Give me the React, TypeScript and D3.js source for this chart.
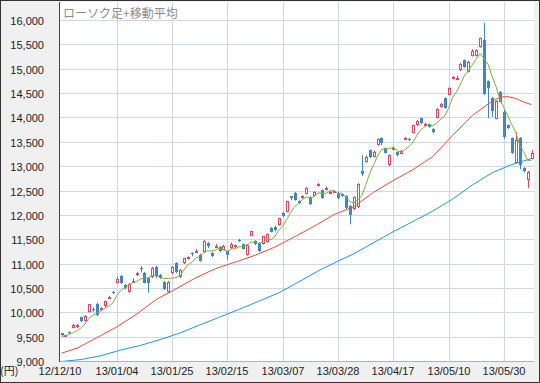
import React from 'react';
import * as d3 from 'd3';

// X tick labels (trading-day index -> label)
const tickIndex = [0, 14, 28, 42, 56, 70, 84, 98, 112];
const tickLabels = ['12/12/10', '13/01/04', '13/01/25', '13/02/15', '13/03/07', '13/03/28', '13/04/17', '13/05/10', '13/05/30'];
const yTicks = [9000, 9500, 10000, 10500, 11000, 11500, 12000, 12500, 13000, 13500, 14000, 14500, 15000, 15500, 16000];

const opens = [9565,9505,9605,9680,9690,9900,9830,10000,10070,10180,
10050,10120,10300,10420,10604,10743,10560,10420,10640,10780,
10900,10810,10700,10720,10930,10760,10620,10420,10800,11010,
10720,11010,11100,11220,11250,11180,11240,11420,11220,11355,
11340,11280,11250,11320,11340,11490,11400,11180,11570,11460,
11420,11400,11440,11730,11760,11790,12040,12060,12380,12450,
12280,12350,12430,12370,12390,12590,12510,12520,12450,12470,
12450,12420,12390,12180,12120,12160,12900,13090,13330,13190,
13430,13580,13370,13020,13360,13290,13250,13560,13560,13680,
13850,13980,13850,13860,13760,13990,14210,14400,14460,14800,
14790,14970,15180,14930,15260,15260,15440,15590,14750,14400,
13970,14520,14110,13840,13580,13060,13580,12960,12710,13150];

const highs = [9575,9540,9610,9760,9760,9910,9940,10170,10100,10200,
10100,10240,10340,10440,10734,10767,10580,10600,10700,10830,
10952,10830,10710,10930,10950,10790,10640,10640,10950,11030,
10890,11120,11150,11230,11300,11200,11480,11440,11240,11400,
11360,11390,11260,11430,11390,11510,11410,11400,11670,11480,
11440,11570,11620,11750,11780,11940,12060,12290,12390,12470,
12300,12400,12570,12380,12490,12650,12520,12580,12500,12510,
12470,12440,12400,12200,12380,12650,13225,13220,13340,13320,
13570,13590,13380,13240,13410,13300,13340,13600,13580,13850,
13950,13990,13890,13870,13780,14190,14300,14410,14620,14850,
14850,15120,15190,15160,15400,15400,15640,15942,14760,14420,
14350,14540,14150,13860,13590,13700,13600,12980,12900,13330];

const lows = [9510,9495,9560,9670,9680,9800,9810,9990,10010,9920,
10030,10100,10280,10380,10598,10580,10470,10398,10600,10740,
10820,10590,10400,10700,10700,10680,10460,10400,10780,10800,
10700,10990,11080,11150,11230,11040,11230,11320,11130,11340,
11230,11270,11080,11300,11320,11440,11290,11160,11560,11380,
11240,11390,11430,11640,11660,11780,11950,12050,12300,12290,
12220,12330,12420,12200,12380,12580,12330,12500,12430,12450,
12320,12370,12120,11805,12100,12140,12800,13070,13170,13180,
13420,13430,13260,13000,13340,13200,13240,13540,13510,13670,
13830,13860,13830,13790,13680,13980,14200,14180,14450,14780,
14770,14950,15020,14920,15250,15250,15430,14460,13981,14010,
13960,14310,13560,13760,13250,13050,12940,12870,12550,13140];

const closes = [9533,9525,9581,9742,9737,9828,9923,10160,10039,9940,
10080,10230,10322,10395,10688,10599,10508,10578,10652,10801,
10879,10600,10609,10913,10747,10709,10486,10620,10926,10824,
10866,11113,11138,11191,11260,11046,11463,11357,11153,11369,
11251,11360,11173,11407,11372,11468,11309,11385,11662,11399,
11254,11559,11606,11652,11683,11932,11968,12283,12349,12314,
12239,12381,12560,12220,12468,12635,12338,12546,12471,12493,
12336,12397,12135,12003,12362,12634,12833,13192,13192,13288,
13549,13485,13275,13221,13382,13220,13316,13568,13529,13843,
13926,13884,13860,13799,13694,14180,14285,14191,14607,14820,
14810,15096,15037,15138,15360,15381,15627,14483,14612,14142,
14340,14326,13589,13774,13261,13533,13014,12904,12880,13270];

// 5-day moving average (one value per trading day)
const ma5 = [9501,9520,9542,9582,9624,9683,9762,9878,9937,9978,
10028,10090,10122,10193,10343,10447,10502,10554,10605,10628,
10684,10702,10708,10760,10750,10716,10693,10695,10698,10713,
10744,10870,10973,11026,11114,11150,11220,11263,11256,11278,
11319,11287,11251,11301,11302,11345,11346,11388,11439,11445,
11402,11452,11496,11494,11551,11686,11768,11904,12043,12169,
12231,12313,12369,12343,12374,12453,12444,12441,12492,12497,
12437,12449,12366,12273,12247,12306,12393,12605,12843,13028,
13211,13341,13358,13364,13382,13317,13283,13341,13403,13495,
13636,13750,13808,13862,13833,13883,13964,14030,14191,14409,
14525,14687,14856,14962,15078,15202,15309,15198,15093,14849,
14635,14375,14196,14028,13852,13697,13434,13297,13118,13120];

// 25-day moving average (read at these trading-day indexes)
const ma25Idx = [0, 4, 9, 14, 19, 24, 29, 34, 39, 44, 49, 54, 59, 64, 69, 74, 79, 84, 89, 94, 99, 104, 109, 111, 113, 115, 117, 119];
const ma25Val = [9160, 9265, 9480, 9700, 9960, 10264, 10482, 10709, 10896, 11031, 11170, 11338, 11549, 11768, 12007, 12167, 12463, 12705, 12930, 13197, 13629, 14039, 14333, 14417, 14428, 14389, 14316, 14262];

// 75-day moving average
const ma75Idx = [0, 5, 10, 15, 20, 25, 30, 35, 40, 45, 50, 55, 60, 65, 70, 74, 79, 84, 89, 94, 99, 104, 109, 114, 119];
const ma75Val = [8990, 9030, 9110, 9225, 9320, 9440, 9575, 9740, 9900, 10060, 10230, 10400, 10620, 10850, 11050, 11201, 11428, 11655, 11865, 12078, 12322, 12613, 12862, 13034, 13155];

const W = 540, H = 383;
const plotL = 60, plotR = 534, plotT = 2, plotB = 361;

export default function App() {
  const x = d3.scaleLinear().domain([0, 112]).range([61.5, 503.9]);
  const y = d3.scaleLinear().domain([9000, 16000]).range([361, 20]);

  const line = d3.line<[number, number]>().x(d => x(d[0])).y(d => y(d[1]));
  const ma5Path = line(ma5.map((v, i) => [i, v] as [number, number])) || '';
  const ma25Path = line(ma25Idx.map((k, j) => [k, ma25Val[j]] as [number, number])) || '';
  const ma75Path = line(ma75Idx.map((k, j) => [k, ma75Val[j]] as [number, number])) || '';

  const upColor = '#d9486a';
  const downColor = '#3f86c4';
  const gridColor = '#cfd8e6';
  const font = '"Liberation Sans", Arial, sans-serif';

  return (
    <svg width={W} height={H} style={{ position: 'absolute', left: 0, top: 0, display: 'block' }}>
      <defs>
        <clipPath id="plotclip">
          <rect x={plotL} y={plotT} width={plotR - plotL} height={plotB - plotT} />
        </clipPath>
      </defs>
      <rect x={0} y={0} width={W} height={H} fill="#f0f0f0" />
      <rect x={plotL} y={plotT} width={plotR - plotL} height={plotB - plotT} fill="#ffffff" />

      {/* grid */}
      {yTicks.map(v => (
        <line key={'gy' + v} x1={plotL} x2={plotR} y1={Math.round(y(v)) + 0.5} y2={Math.round(y(v)) + 0.5} stroke={gridColor} strokeWidth={1} />
      ))}
      {tickIndex.slice(1).map(i => (
        <line key={'gx' + i} x1={Math.round(x(i)) + 0.5} x2={Math.round(x(i)) + 0.5} y1={plotT} y2={plotB} stroke={gridColor} strokeWidth={1} />
      ))}

      <text x={63} y={18} fontSize={12} fill="#8a8a8a" fontFamily='"Noto Sans CJK JP", "Noto Sans", sans-serif'>ローソク足+移動平均</text>

      <g clipPath="url(#plotclip)">
        {opens.map((o, i) => {
          const c = closes[i];
          const up = c >= o;
          const cx = Math.round(x(i));
          const col = up ? upColor : downColor;
          const top = Math.round(y(Math.max(o, c)));
          const bot = Math.round(y(Math.min(o, c)));
          const h = Math.max(1, bot - top);
          return (
            <g key={'c' + i}>
              <line x1={cx + 0.5} x2={cx + 0.5} y1={y(highs[i])} y2={y(lows[i])} stroke={col} strokeWidth={1} />
              {up ? (
                <rect x={cx - 0.5} y={top + 0.5} width={2} height={Math.max(1, h - 1)} fill="#ffffff" stroke={col} strokeWidth={1} />
              ) : (
                <rect x={cx - 1} y={top} width={3} height={h} fill={col} />
              )}
            </g>
          );
        })}
        <path d={ma75Path} fill="none" stroke="#1b9ad8" strokeWidth={1} />
        <path d={ma25Path} fill="none" stroke="#ee4a35" strokeWidth={1} />
        <path d={ma5Path} fill="none" stroke="#7ab232" strokeWidth={1} />
      </g>

      {/* axes */}
      <line x1={plotL - 0.5} x2={plotL - 0.5} y1={plotT} y2={plotB + 1} stroke="#444" strokeWidth={1} />
      <line x1={plotL} x2={plotR} y1={plotB + 0.5} y2={plotB + 0.5} stroke="#a9b4c4" strokeWidth={1} />

      {yTicks.map(v => (
        <text key={'ty' + v} x={44} y={y(v) + 5} textAnchor="end" fontSize={11} fill="#222" fontFamily={font}>
          {d3.format(',')(v)}
        </text>
      ))}
      {tickIndex.map((i, j) => (
        <text key={'tx' + i} x={j === 0 ? 60 : Math.round(x(i))} y={375} textAnchor="middle" fontSize={11} fill="#222" fontFamily={font}>
          {tickLabels[j]}
        </text>
      ))}
      <text x={0} y={375} fontSize={11} fill="#222" fontFamily='"Noto Sans CJK JP", sans-serif'>(円)</text>

      <rect x={0.5} y={0.5} width={W - 1} height={H - 1} fill="none" stroke="#333" strokeWidth={1} />
    </svg>
  );
}
